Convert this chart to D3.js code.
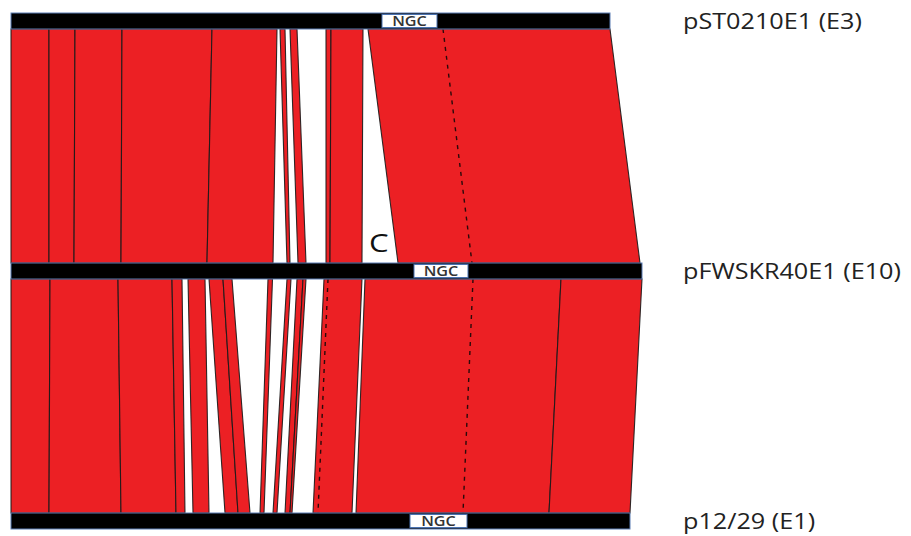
<!DOCTYPE html>
<html>
<head>
<meta charset="utf-8">
<script src="https://cdn.jsdelivr.net/npm/d3@7"></script>
<style>
  body { margin: 0; background: #fff; }
  text { font-family: "Open Sans", "Noto Sans", sans-serif; }
</style>
</head>
<body>
<div id="chart"></div>
<script>
// genomes, top to bottom (lengths in kb)
var genomes = ["pST0210E1 (E3)", "pFWSKR40E1 (E10)", "p12/29 (E1)"];
var genomeLengths = [59.9, 63.1, 61.9];

// NGC feature on each genome
var ngcStart = [37.1, 40.3, 39.9];
var ngcEnd = [42.6, 45.7, 45.6];

// blast hits between neighbouring genomes: [start, end] upper -> [start, end] lower
var hitsTop = [
  [0, 3.8, 0, 3.8],
  [3.8, 6.4, 3.8, 6.3],
  [6.4, 11.1, 6.3, 11.0],
  [11.1, 20.1, 11.0, 19.6],
  [20.1, 26.6, 19.6, 26.2],
  [26.9, 27.4, 27.6, 27.9],
  [27.9, 28.6, 28.7, 29.5],
  [31.5, 32.0, 31.5, 31.9],
  [32.0, 35.2, 31.9, 35.1],
  [35.7, 59.9, 38.7, 62.9]
];
var hitsBottom = [
  [0, 3.9, 0, 3.8],
  [3.9, 10.7, 3.8, 11.0],
  [10.7, 16.1, 11.0, 16.5],
  [16.1, 17.1, 16.5, 17.4],
  [17.7, 19.4, 18.2, 19.8],
  [19.8, 21.2, 21.4, 22.7],
  [21.2, 22.1, 22.7, 23.9],
  [25.7, 26.15, 24.9, 25.3],
  [27.6, 28.0, 26.2, 26.6],
  [28.6, 29.2, 27.4, 27.9],
  [29.2, 29.5, 27.9, 28.1],
  [31.3, 35.1, 30.2, 34.1],
  [35.4, 55.0, 34.5, 53.8],
  [55.0, 63.1, 53.8, 61.9]
];

// small identity breaks drawn dashed inside a hit
var breaksTop = [[43.2, 46.1]];
var breaksBottom = [[31.7, 30.7], [46.2, 45.2]];

var width = 911;
var height = 536;
var barH = 16;
var stretch = 1.2; // lettering in the figure is a bit wide

var svg = d3.select("#chart")
  .append("svg")
  .attr("width", width)
  .attr("height", height);

var x = d3.scaleLinear()
  .domain([0, 63.1])
  .range([11, 642]);

var y = d3.scalePoint()
  .domain(genomes)
  .range([13, 513]);

// draw one set of hits between two tracks
function drawHits(hits, breaks, upper, lower) {
  var y0 = y(upper) + barH;
  var y1 = y(lower);
  var g = svg.append("g");

  g.selectAll("polygon")
    .data(hits)
    .enter()
    .append("polygon")
    .attr("points", function(d) {
      return [
        [x(d[0]), y0], [x(d[1]), y0],
        [x(d[3]), y1], [x(d[2]), y1]
      ].join(" ");
    })
    .attr("fill", "#ec2024")
    .attr("stroke", "#1a1a1a")
    .attr("stroke-opacity", 0.9)
    .attr("stroke-width", 1.1);

  g.selectAll("line")
    .data(breaks)
    .enter()
    .append("line")
    .attr("x1", function(d) { return x(d[0]); })
    .attr("x2", function(d) { return x(d[1]); })
    .attr("y1", y0)
    .attr("y2", y1)
    .attr("stroke", "#2a0a0a")
    .attr("stroke-width", 1.4)
    .attr("stroke-dasharray", "4,5");
}

drawHits(hitsTop, breaksTop, genomes[0], genomes[1]);
drawHits(hitsBottom, breaksBottom, genomes[1], genomes[2]);

// the genome bars
var tracks = svg.selectAll("g.track")
  .data(genomes)
  .enter()
  .append("g")
  .attr("class", "track");

tracks.append("rect")
  .attr("x", x(0))
  .attr("y", function(d) { return y(d); })
  .attr("width", function(d, i) { return x(genomeLengths[i]) - x(0); })
  .attr("height", barH)
  .attr("fill", "#000")
  .attr("stroke", "#5b7db3")
  .attr("stroke-width", 1);

tracks.append("rect")
  .attr("x", function(d, i) { return x(ngcStart[i]); })
  .attr("y", function(d) { return y(d) + 1.5; })
  .attr("width", function(d, i) { return x(ngcEnd[i]) - x(ngcStart[i]); })
  .attr("height", barH - 3)
  .attr("fill", "#fff")
  .attr("stroke", "#4a72b0")
  .attr("stroke-width", 1);

tracks.append("text")
  .attr("transform", function(d, i) {
    var cx = (x(ngcStart[i]) + x(ngcEnd[i])) / 2;
    return "translate(" + cx + "," + (y(d) + 13) + ") scale(" + stretch + ",1)";
  })
  .attr("text-anchor", "middle")
  .attr("font-size", 13.5)
  .attr("font-weight", 600)
  .attr("fill", "#333")
  .text("NGC");

// names on the right
tracks.append("text")
  .attr("transform", function(d) {
    return "translate(683," + (y(d) + barH) + ") scale(" + stretch + ",1)";
  })
  .attr("font-size", 21)
  .attr("fill", "#222")
  .text(function(d) { return d; });

// region C marker
svg.append("text")
  .attr("transform", "translate(" + x(35.8) + ",252) scale(" + stretch + ",1)")
  .attr("font-size", 26)
  .attr("fill", "#111")
  .text("C");
</script>
</body>
</html>
